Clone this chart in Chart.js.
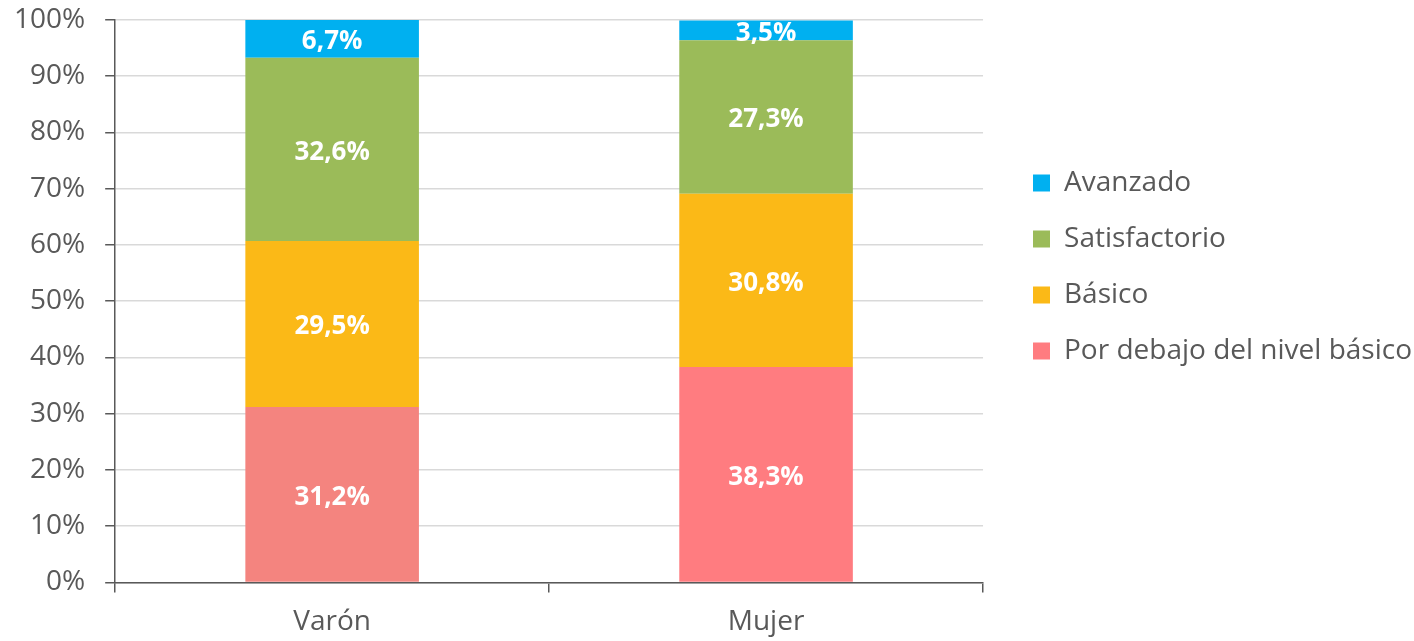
<!DOCTYPE html>
<html lang="es">
<head>
<meta charset="utf-8">
<title>Niveles de logro por sexo</title>
<script src="https://cdn.jsdelivr.net/npm/chart.js@4.4.1/dist/chart.umd.min.js"></script>
<style>
  html, body { margin: 0; padding: 0; background: #fff; }
  #wrap { width: 1414px; height: 641px; position: relative; }
</style>
</head>
<body>
<div id="wrap"><canvas id="nivelesChart"></canvas></div>
<script>
// Distribución por nivel de logro (%), de abajo hacia arriba en cada barra
const categorias = ['Varón', 'Mujer'];
const porDebajo = [31.2, 38.3];
const basico = [29.5, 30.8];
const satisfactorio = [32.6, 27.3];
const avanzado = [6.7, 3.5];

const gris = '#595959';
const grisClaro = '#D9D9D9';
const fuente = '"Open Sans", "Liberation Sans", sans-serif';

function formatoPct(v) {
    return v.toFixed(1).replace('.', ',') + '%';
}

// Etiquetas blancas centradas dentro de cada segmento
const etiquetasValor = {
    id: 'etiquetasValor',
    afterDatasetsDraw(chart) {
        const { ctx, chartArea } = chart;
        ctx.save();
        ctx.beginPath();
        ctx.rect(chartArea.left, chartArea.top, chartArea.width, chartArea.height);
        ctx.clip();
        ctx.font = 'bold 26px "Open Sans", sans-serif';
        ctx.fillStyle = '#fff';
        ctx.textAlign = 'center';
        ctx.textBaseline = 'middle';
        chart.data.datasets.forEach((ds, i) => {
            const meta = chart.getDatasetMeta(i);
            meta.data.forEach((bar, j) => {
                const { x, y, base } = bar.getProps(['x', 'y', 'base'], true);
                ctx.fillText(formatoPct(ds.data[j]), x, (y + base) / 2 + 3);
            });
        });
        ctx.restore();
    }
};

// Desplaza la leyenda respecto del área del gráfico
const ajusteLeyenda = {
    id: 'ajusteLeyenda',
    afterLayout(chart) {
        const leg = chart.legend;
        const dx = 22, dy = -69;
        leg.left += dx; leg.right += dx;
        leg.top += dy; leg.bottom += dy;
    }
};

new Chart(document.getElementById('nivelesChart'), {
    type: 'bar',
    data: {
        labels: categorias,
        datasets: [
            { label: 'Por debajo del nivel básico', data: porDebajo, backgroundColor: ['#F4847F', '#FF7C80'] },
            { label: 'Básico', data: basico, backgroundColor: '#FBB917' },
            { label: 'Satisfactorio', data: satisfactorio, backgroundColor: '#9BBB59' },
            { label: 'Avanzado', data: avanzado, backgroundColor: '#00B0F0' }
        ]
    },
    options: {
        responsive: true,
        maintainAspectRatio: false,
        animation: false,
        datasets: {
            bar: { categoryPercentage: 0.4, barPercentage: 1, borderWidth: 0 }
        },
        layout: {
            padding: { left: -6, top: 20, right: 14, bottom: -11 }
        },
        plugins: {
            tooltip: { enabled: false },
            legend: {
                position: 'right',
                reverse: true,
                maxWidth: 440,
                labels: {
                    color: gris,
                    boxWidth: 17,
                    boxHeight: 17,
                    padding: 28,
                    font: { family: fuente, size: 28 },
                    generateLabels(chart) {
                        const items = Chart.defaults.plugins.legend.labels.generateLabels(chart);
                        items.forEach(it => {
                            const c = chart.data.datasets[it.datasetIndex].backgroundColor;
                            if (Array.isArray(c)) it.fillStyle = c[c.length - 1];
                            it.strokeStyle = it.fillStyle;
                            it.lineWidth = 0;
                        });
                        return items;
                    }
                }
            }
        },
        scales: {
            x: {
                stacked: true,
                grid: { drawOnChartArea: false, tickColor: gris, tickLength: 10, lineWidth: 1.5 },
                border: { color: gris, width: 1.5 },
                ticks: { color: gris, padding: 13, font: { family: fuente, size: 28 } }
            },
            y: {
                stacked: true,
                min: 0,
                max: 100,
                grid: { color: grisClaro, lineWidth: 1.5, tickColor: gris, tickLength: 10 },
                border: { color: gris, width: 1.5 },
                ticks: {
                    stepSize: 10,
                    color: gris,
                    padding: 20,
                    font: { family: fuente, size: 28 },
                    callback: v => v + '%'
                },
                // el rótulo "100%" puede sobresalir por encima del área de trazado
                afterFit(scale) {
                    scale.paddingTop = 0;
                    scale.paddingBottom = 0;
                }
            }
        }
    },
    plugins: [etiquetasValor, ajusteLeyenda]
});
</script>
</body>
</html>
